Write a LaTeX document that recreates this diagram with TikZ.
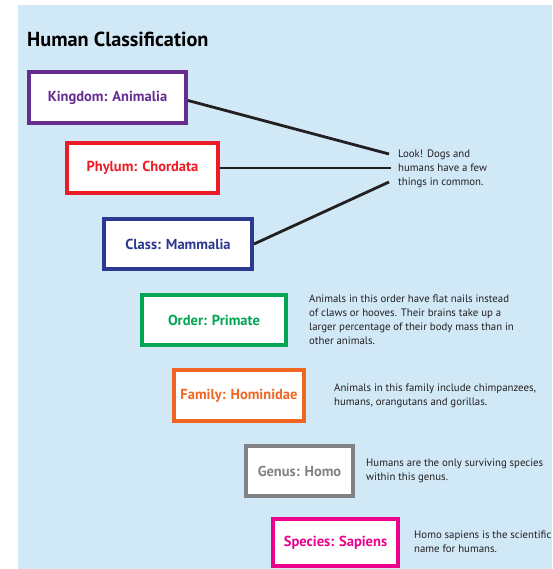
\documentclass[tikz,border=0pt]{standalone}
\usepackage{fontspec}
\setmainfont{PT Sans}
\usetikzlibrary{positioning}
\definecolor{paper}{RGB}{209,232,247}
\definecolor{rankkingdom}{RGB}{102,45,145}
\definecolor{rankphylum}{RGB}{237,28,36}
\definecolor{rankclass}{RGB}{43,57,144}
\definecolor{rankorder}{RGB}{0,166,81}
\definecolor{rankfamily}{RGB}{241,101,34}
\definecolor{rankgenus}{RGB}{128,130,133}
\definecolor{rankspecies}{RGB}{236,0,140}
\definecolor{notetext}{RGB}{35,31,32}
\tikzset{
  rankbox/.style={draw=#1,text=#1,fill=white,line width=4pt,inner sep=0pt,
    font=\bfseries\fontsize{14.5}{16}\selectfont},
  notebox/.style={anchor=north west,align=left,inner sep=0pt,text=notetext,
    font=\fontsize{10.8}{14}\selectfont},
  link/.style={line width=2.8pt,notetext},
}

\begin{document}
\begin{tikzpicture}[x=1pt,y=-1pt]
    \clip (0,0) rectangle (552,569);
    \fill[white] (0,0) rectangle (552,569);
    \fill[paper] (18,5) rectangle (552,569);
    \node[anchor=base west,inner sep=0pt,font=\bfseries\fontsize{20.3}{22}\selectfont] (title) at (27,47) {Human Classification};
    % ranks
    \node[rankbox=rankkingdom,minimum width=157pt,minimum height=51pt] (kingdom) at (107.5,97.5) {Kingdom: Animalia};
    \node[rankbox=rankphylum,minimum width=151pt,minimum height=50pt] (phylum) at (142.5,168) {Phylum: Chordata};
    \node[rankbox=rankclass,minimum width=148pt,minimum height=50pt] (class) at (178,244) {Class: Mammalia};
    \node[rankbox=rankorder,minimum width=144pt,minimum height=50pt] (order) at (214,320) {Order: Primate};
    \node[rankbox=rankfamily,minimum width=130pt,minimum height=51pt] (family) at (239,395.5) {Family: Hominidae};
    \node[rankbox=rankgenus,minimum width=107pt,minimum height=50pt] (genus) at (299.5,471) {Genus: Homo};
    \node[rankbox=rankspecies,minimum width=125pt,minimum height=47pt] (species) at (335.5,542.5) {Species: Sapiens};
    % notes
    \node[notebox] (look) at (398,149.5) {Look! Dogs and\\humans have a few\\things in common.};
    \node[notebox] (ordernote) at (309,294.5) {Animals in this order have flat nails instead\\of claws or hooves. Their brains take up a\\larger percentage of their body mass than in\\other animals.};
    \node[notebox] (familynote) at (334,383.5) {Animals in this family include chimpanzees,\\humans, orangutans and gorillas.};
    \node[notebox] (genusnote) at (366,458.5) {Humans are the only surviving species\\within this genus.};
    \node[notebox] (speciesnote) at (414,530.5) {Homo sapiens is the scientific\\name for humans.};
    % links to the dogs note
    \coordinate (lka) at (389,154);
    \coordinate (lkb) at (391,168);
    \coordinate (lkc) at (389,182);
    \draw[link] ([yshift=-3pt]kingdom.east) -- (lka);
    \draw[link] (phylum.east) -- (lkb);
    \draw[link] (class.east) -- (lkc);
\end{tikzpicture}
\end{document}
